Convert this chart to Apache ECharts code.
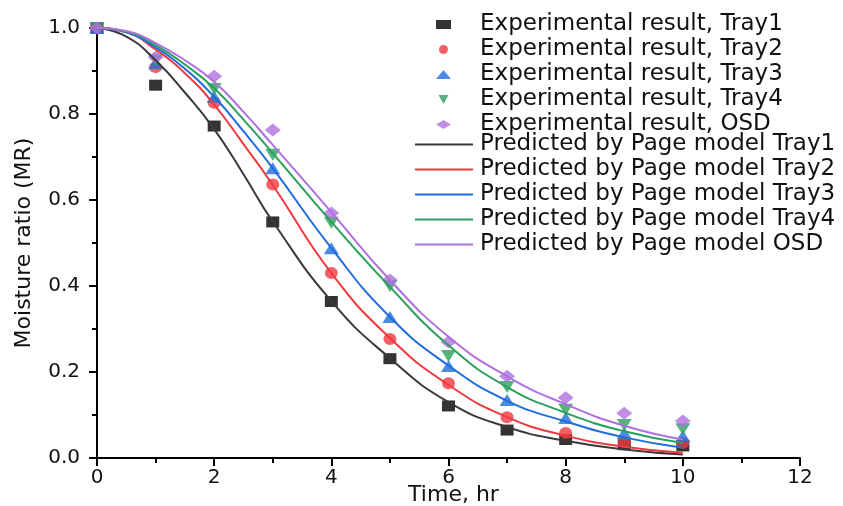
<!DOCTYPE html>
<html>
<head>
<meta charset="utf-8">
<script src="https://cdn.jsdelivr.net/npm/echarts@6/dist/echarts.min.js"></script>
<style>html,body{margin:0;padding:0;background:#fff}#c{width:843px;height:506px}</style>
</head>
<body>
<div id="c"></div>
<script>
// ---- data ----
const hours = [0, 1, 2, 3, 4, 5, 6, 7, 8, 9, 10];
const expTray1 = [1.0, 0.867, 0.772, 0.549, 0.364, 0.231, 0.121, 0.065, 0.043, 0.031, 0.028];
const expTray2 = [1.0, 0.909, 0.826, 0.636, 0.430, 0.277, 0.174, 0.095, 0.058, 0.037, 0.035];
const expTray3 = [1.0, 0.918, 0.840, 0.674, 0.488, 0.328, 0.214, 0.135, 0.093, 0.058, 0.051];
const expTray4 = [1.0, 0.925, 0.858, 0.705, 0.547, 0.400, 0.237, 0.165, 0.112, 0.077, 0.067];
const expOSD   = [1.0, 0.932, 0.888, 0.763, 0.570, 0.414, 0.270, 0.190, 0.140, 0.104, 0.086];

const predHours = [0, 0.5, 1, 1.5, 2, 2.5, 3, 4, 5, 6, 7, 8, 9, 10];
const predTray1 = [1.0, 0.980, 0.925, 0.850, 0.765, 0.660, 0.550, 0.365, 0.232, 0.130, 0.072, 0.040, 0.020, 0.008];
const predTray2 = [1.0, 0.990, 0.950, 0.895, 0.822, 0.730, 0.635, 0.430, 0.279, 0.170, 0.095, 0.052, 0.026, 0.012];
const predTray3 = [1.0, 0.990, 0.955, 0.905, 0.840, 0.760, 0.674, 0.488, 0.328, 0.215, 0.133, 0.085, 0.048, 0.024];
const predTray4 = [1.0, 0.992, 0.960, 0.915, 0.860, 0.787, 0.709, 0.549, 0.398, 0.262, 0.165, 0.105, 0.062, 0.035];
const predOSD   = [1.0, 0.993, 0.965, 0.925, 0.875, 0.805, 0.728, 0.572, 0.414, 0.282, 0.190, 0.125, 0.075, 0.043];

const xTicks = [0, 2, 4, 6, 8, 10, 12];
const yTicks = [0.0, 0.2, 0.4, 0.6, 0.8, 1.0];

const expNames = ['Experimental result, Tray1', 'Experimental result, Tray2', 'Experimental result, Tray3',
                  'Experimental result, Tray4', 'Experimental result, OSD'];
const predNames = ['Predicted by Page model Tray1', 'Predicted by Page model Tray2', 'Predicted by Page model Tray3',
                   'Predicted by Page model Tray4', 'Predicted by Page model OSD'];

// ---- styling ----
const colors = ['#000000', '#ef3a3f', '#1f6edc', '#2aa05c', '#b070e0'];
const lineColors = ['#3a3a3a', '#ef3a3f', '#1f6edc', '#2aa05c', '#b070e0'];
const downTri = 'path://M0,0 L10,0 L5,9 Z';
const symbols = ['rect', 'circle', 'triangle', downTri, 'diamond'];
const symbolSizes = [[13, 11], [13, 12], [15, 12], [15, 12], [16, 13]];

const expSets = [expTray1, expTray2, expTray3, expTray4, expOSD];
const predSets = [predTray1, predTray2, predTray3, predTray4, predOSD];

const series = [];
expSets.forEach((vals, i) => {
  series.push({
    name: expNames[i], type: 'scatter', symbol: symbols[i], symbolSize: symbolSizes[i],
    itemStyle: { color: colors[i] }, z: 2,
    data: hours.map((h, k) => [h, vals[k]])
  });
});
predSets.forEach((vals, i) => {
  series.push({
    name: predNames[i], type: 'line', smooth: true, showSymbol: false, symbol: 'none',
    lineStyle: { color: lineColors[i], width: 2 }, itemStyle: { color: lineColors[i] }, z: 3,
    data: predHours.map((h, k) => [h, vals[k]])
  });
});

const font = '"DejaVu Sans", "Liberation Sans", Arial, sans-serif';
const legendText = { fontFamily: font, fontSize: 23, color: '#111', lineHeight: 22 };
const chart = echarts.init(document.getElementById('c'), null, { renderer: 'canvas' });
chart.setOption({
  animation: false,
  backgroundColor: '#fff',
  textStyle: { fontFamily: font },
  grid: { left: 97, right: 43, top: 28, bottom: 48, containLabel: false, outerBoundsMode: 'none' },
  legend: [
    {
      orient: 'vertical', left: 436, top: 13, padding: 0,
      itemWidth: 15, itemHeight: 9, itemGap: 2,
      textStyle: Object.assign({ padding: [0, 0, 0, 24] }, legendText),
      data: expNames.map((n, i) => ({ name: n, icon: symbols[i] }))
    },
    {
      orient: 'vertical', left: 415, top: 133, padding: 0,
      itemWidth: 58, itemHeight: 2, itemGap: 2,
      textStyle: Object.assign({ padding: [0, 0, 0, 2] }, legendText),
      data: predNames.map(n => ({ name: n, icon: 'rect' }))
    }
  ],
  xAxis: {
    type: 'value', min: xTicks[0], max: xTicks[xTicks.length - 1], interval: 2,
    name: 'Time, hr', nameLocation: 'middle', nameGap: 26, nameMoveOverlap: false,
    nameTextStyle: { fontFamily: font, fontSize: 22, color: '#111', verticalAlign: 'top', padding: [0, 0, 0, 10] },
    axisLine: { onZero: false, lineStyle: { color: '#000', width: 2 } },
    axisTick: { show: true, length: 8, lineStyle: { color: '#000', width: 2 } },
    minorTick: { show: true, splitNumber: 2, length: 5, lineStyle: { color: '#000', width: 2 } },
    splitLine: { show: false },
    axisLabel: { fontFamily: font, fontSize: 20, color: '#111', margin: 10 }
  },
  yAxis: {
    type: 'value', min: yTicks[0], max: yTicks[yTicks.length - 1], interval: 0.2,
    name: 'Moisture ratio (MR)', nameLocation: 'middle', nameGap: 62, nameRotate: 90, nameMoveOverlap: false,
    nameTextStyle: { fontFamily: font, fontSize: 22, color: '#111' },
    axisLine: { onZero: false, lineStyle: { color: '#000', width: 2 } },
    axisTick: { show: true, length: 8, lineStyle: { color: '#000', width: 2 } },
    minorTick: { show: true, splitNumber: 2, length: 5, lineStyle: { color: '#000', width: 2 } },
    splitLine: { show: false },
    axisLabel: { fontFamily: font, fontSize: 20, color: '#111', margin: 17, formatter: v => v.toFixed(1) }
  },
  series: series
});
</script>
</body>
</html>
